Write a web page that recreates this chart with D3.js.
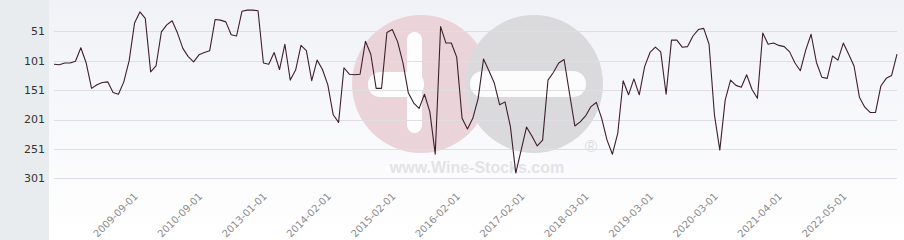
<!doctype html>
<meta charset="utf-8">
<title>Ranking</title>
<script src="https://cdn.jsdelivr.net/npm/d3@7"></script>
<style>
  body { margin: 0; background: #fff; }
  svg { display: block; }
</style>
<body>
<script>
// rank values, one per point (lower is better, axis is reversed)
var values = [
  107, 108, 105, 105, 102, 79, 105, 148, 142, 138,
  137, 155, 158, 137, 101, 37, 18, 29, 120, 110,
  52, 40, 33, 54, 80, 94, 103, 91, 87, 84,
  31, 32, 35, 57, 59, 17, 15, 15, 16, 105,
  107, 87, 116, 73, 134, 117, 75, 84, 135, 100,
  116, 142, 193, 206, 113, 124, 125, 124, 68, 90,
  148, 148, 53, 48, 69, 105, 156, 173, 182, 158,
  188, 260, 43, 71, 71, 95, 199, 217, 199, 165,
  98, 118, 139, 176, 171, 213, 292, 253, 214, 229,
  246, 236, 134, 121, 105, 99, 156, 212, 205, 195,
  179, 172, 199, 236, 260, 224, 135, 159, 132, 159,
  111, 87, 78, 86, 158, 66, 66, 78, 77, 59,
  48, 46, 73, 193, 253, 168, 134, 143, 146, 125,
  150, 165, 54, 73, 71, 75, 77, 86, 105, 118,
  83, 56, 104, 129, 131, 93, 100, 71, 90, 110,
  163, 180, 189, 189, 144, 131, 126, 90
];
var tickLabels = ['2009-09-01', '2010-09-01', '2013-01-01', '2014-02-01', '2015-02-01', '2016-02-01',
                  '2017-02-01', '2018-03-01', '2019-03-01', '2020-03-01', '2021-04-01', '2022-05-01'];
var tickIndex = [15, 27, 39, 51, 63, 75, 87, 99, 111, 123, 135, 147];
var yTicks = [51, 101, 151, 201, 251, 301];

var width = 904, height = 240;

var svg = d3.select('body').append('svg')
  .attr('width', width)
  .attr('height', height);

var defs = svg.append('defs');
var grad = defs.append('linearGradient')
  .attr('id', 'bg').attr('x1', 0).attr('y1', 0).attr('x2', 0).attr('y2', 1);
grad.append('stop').attr('offset', '0%').attr('stop-color', '#f1f2f7');
grad.append('stop').attr('offset', '100%').attr('stop-color', '#ffffff');

svg.append('rect').attr('x', 0).attr('y', 0).attr('width', width).attr('height', height)
  .attr('fill', 'url(#bg)');
// left panel
svg.append('rect').attr('x', 0).attr('y', 0).attr('width', 49).attr('height', height)
  .attr('fill', '#e9ecef');

var x = d3.scaleLinear().domain([0, values.length - 1]).range([54, 897]);
var y = d3.scaleLinear().domain([51, 301]).range([31.3, 178.3]);

// watermark
var wm = svg.append('g').attr('class', 'watermark');
wm.append('circle').attr('cx', 421).attr('cy', 84).attr('r', 69).attr('fill', '#ebd3da');
wm.append('rect').attr('x', 368).attr('y', 72).attr('width', 56).attr('height', 25).attr('rx', 12).attr('fill', '#fdfdfe');
wm.append('rect').attr('x', 407).attr('y', 32).attr('width', 15).attr('height', 101).attr('rx', 7.5).attr('fill', '#fdfdfe');
wm.append('circle').attr('cx', 534).attr('cy', 84).attr('r', 69).attr('fill', '#dadadc');
wm.append('rect').attr('x', 470).attr('y', 71).attr('width', 116).attr('height', 26).attr('rx', 13).attr('fill', '#fcfcfd');
wm.append('text').attr('x', 477).attr('y', 173)
  .attr('text-anchor', 'middle')
  .attr('font-family', 'Liberation Sans, Arial, sans-serif')
  .attr('font-weight', 'bold').attr('font-size', 16)
  .attr('fill', '#e3e3e6')
  .text('www.Wine-Stocks.com');
wm.append('text').attr('x', 591).attr('y', 152)
  .attr('text-anchor', 'middle')
  .attr('font-family', 'Liberation Sans, Arial, sans-serif')
  .attr('font-size', 17)
  .attr('fill', '#dcdcde')
  .text('®');

// gridlines + y labels
var yAxis = svg.append('g');
yAxis.selectAll('line').data(yTicks).enter().append('line')
  .attr('x1', 54).attr('x2', 897)
  .attr('y1', function(d) { return Math.round(y(d)) + 0.5; })
  .attr('y2', function(d) { return Math.round(y(d)) + 0.5; })
  .attr('stroke', '#dfdfe3').attr('stroke-width', 1);
yAxis.selectAll('text').data(yTicks).enter().append('text')
  .attr('x', 45)
  .attr('y', function(d) { return y(d); })
  .attr('dy', '0.35em')
  .attr('text-anchor', 'end')
  .attr('font-family', 'DejaVu Sans, sans-serif')
  .attr('font-size', 11)
  .attr('fill', '#333')
  .text(function(d) { return d; });

// x labels
svg.append('g').selectAll('text').data(tickIndex).enter().append('text')
  .attr('transform', function(d) { return 'translate(' + (x(d) + 4) + ',197) rotate(-45)'; })
  .attr('text-anchor', 'end')
  .attr('font-family', 'DejaVu Sans, sans-serif')
  .attr('font-size', 10)
  .attr('fill', '#8a8a8a')
  .text(function(d, i) { return tickLabels[i]; });

// line
var line = d3.line()
  .x(function(d, i) { return x(i); })
  .y(function(d) { return y(d); });

svg.append('path')
  .datum(values)
  .attr('d', line)
  .attr('fill', 'none')
  .attr('stroke', '#3d1f2c')
  .attr('stroke-width', 1.1)
  .attr('stroke-linejoin', 'round');
</script>
</body>
